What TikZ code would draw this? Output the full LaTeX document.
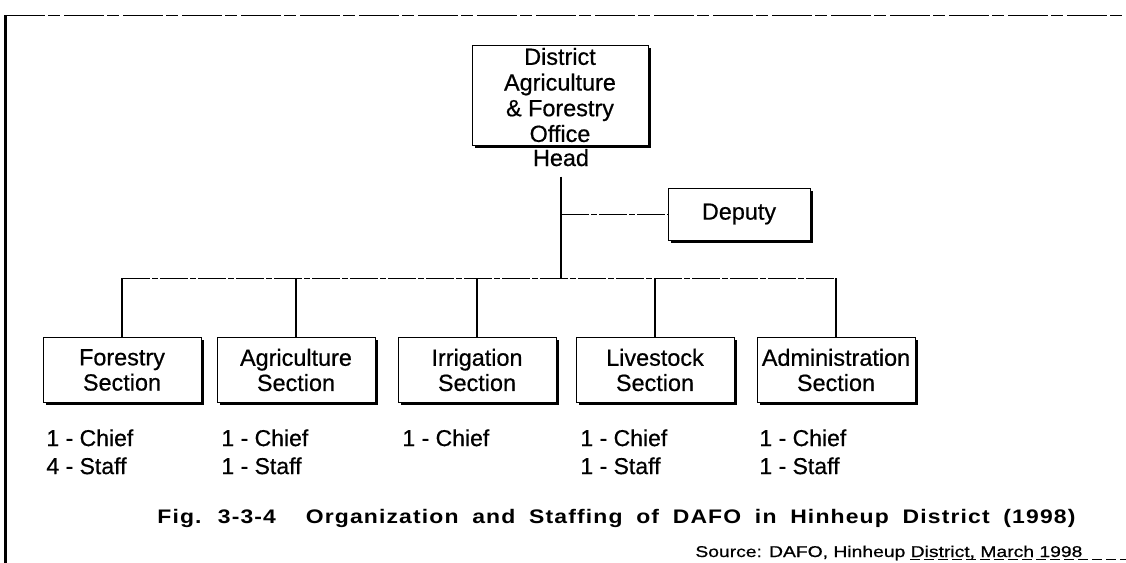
\documentclass[tikz,border=0pt]{standalone}
\usepackage{fontspec}
\setmainfont{Liberation Sans}[FakeBold=0.6]
\newfontfamily\capfont{Liberation Sans}[LetterSpace=5]
\usetikzlibrary{shadows}
\tikzset{
  orgbox/.style={draw, line width=0.5pt, fill=white, inner sep=1pt, align=center,
    font=\fontsize{11.7}{12.6}\selectfont,
    drop shadow={shadow xshift=1.3pt, shadow yshift=-1.3pt, opacity=1, fill=black}},
  secbox/.style={orgbox, minimum width=79pt, minimum height=32.5pt},
  vconn/.style={line width=0.65pt},
  hconn/.style={line width=0.5pt, dash pattern=on 14pt off 1pt on 3pt off 1pt},
  stafftext/.style={anchor=north west, inner sep=0pt, align=left,
    font=\fontsize{11.5}{14}\selectfont},
  frame/.style={line width=0.5pt, dash pattern=on 20pt off 1.5pt on 6pt off 2pt}
}
\begin{document}
\begin{tikzpicture}[x=0.5pt,y=-0.5pt]
\useasboundingbox (0,0) rectangle (1126,563);
% frame of the scanned page
\draw[line width=1.5pt] (5,15) -- (5,563);
\draw[frame] (5,15) -- (1126,15);
\draw[line width=0.4pt, dash pattern=on 5pt off 2pt] (910,559) -- (1126,559);

% top office
\node[orgbox, minimum width=88pt, minimum height=50pt, font=\fontsize{11.7}{12.85}\selectfont] (dafo) at (560,95)
  {District\\Agriculture\\\&\ Forestry\\Office};
\node[anchor=base, inner sep=0pt, font=\fontsize{11.7}{13}\selectfont] (head) at (561,166) {Head};
\node[orgbox, minimum width=71pt, minimum height=26pt] (deputy) at (739,214) {Deputy};

% sections
\node[secbox] (fo) at (122,370) {Forestry\\Section};
\node[secbox] (ag) at (296,370) {Agriculture\\Section};
\node[secbox] (ir) at (477,370) {Irrigation\\Section};
\node[secbox] (li) at (655,370) {Livestock\\Section};
\node[secbox] (ad) at (836,370) {Administration\\Section};

% connectors
\coordinate (barlevel) at (0,278);
\draw[vconn] ([yshift=-5pt]head.south) -- (head.south |- barlevel);
\draw[hconn] (deputy.west -| head.south) -- (deputy.west);
\draw[hconn] (fo.north |- barlevel) -- (ad.north |- barlevel);
\foreach \n in {fo,ag,ir,li,ad}
  \draw[vconn] (\n.north |- barlevel) -- (\n.north);

% staffing
\node[stafftext] (sfo) at (46,429) {1 - Chief\\4 - Staff};
\node[stafftext] (sag) at (221,429) {1 - Chief\\1 - Staff};
\node[stafftext] (sir) at (402,429) {1 - Chief};
\node[stafftext] (sli) at (580,429) {1 - Chief\\1 - Staff};
\node[stafftext] (sad) at (759,429) {1 - Chief\\1 - Staff};

% caption
\node[anchor=base west, inner sep=0pt] (cap) at (157,523)
  {\resizebox{459pt}{\height}{\capfont\bfseries\fontsize{9.8}{11}\selectfont\spaceskip=0.6em
   Fig. 3-3-4\hspace{1.3em}Organization and Staffing of DAFO in Hinheup District (1998)}};
\node[anchor=base west, inner sep=0pt] (src) at (695,557)
  {\resizebox{193.5pt}{\height}{\fontsize{7.8}{9}\selectfont Source: DAFO, Hinheup District, March 1998}};
\end{tikzpicture}
\end{document}
